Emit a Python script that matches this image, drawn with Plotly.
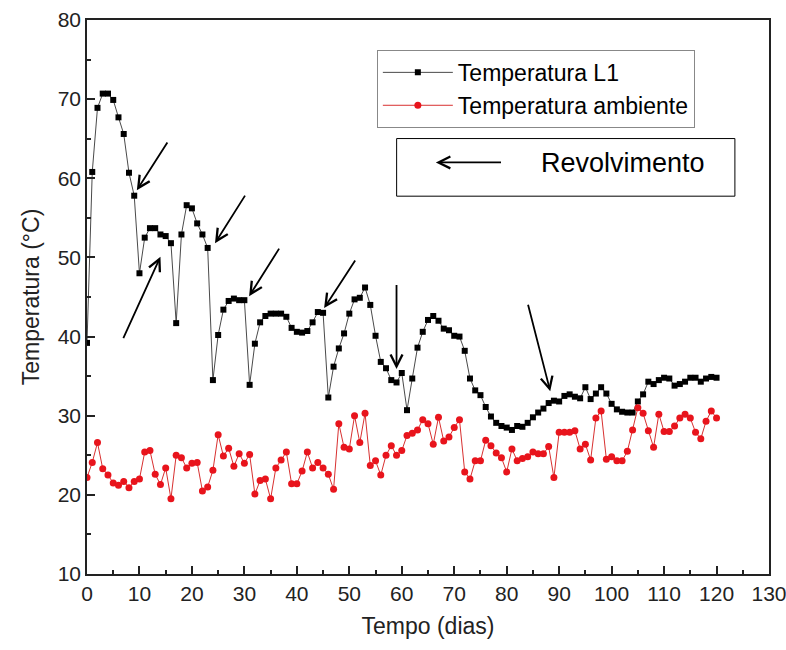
import plotly.graph_objects as go

days = list(range(0, 121))

temp_l1 = [39.2, 60.8, 68.9, 70.7, 70.7, 69.9, 67.7, 65.6, 60.7, 57.8,
           48.0, 52.5, 53.7, 53.7, 52.9, 52.7, 51.8, 41.7, 52.9, 56.6,
           56.2, 54.3, 52.9, 51.2, 34.5, 40.2, 43.4, 44.5, 44.8, 44.6,
           44.6, 33.9, 39.1, 41.8, 42.6, 42.9, 42.9, 42.9, 42.5, 41.1,
           40.6, 40.5, 40.7, 41.8, 43.1, 43.0, 32.3, 36.2, 38.5, 40.4,
           42.9, 44.7, 44.9, 46.2, 44.0, 40.1, 36.8, 36.0, 34.5, 34.2,
           35.4, 30.7, 34.7, 38.6, 40.6, 42.1, 42.6, 42.0, 41.0, 40.8,
           40.1, 40.0, 38.2, 34.7, 33.2, 32.6, 31.1, 29.9, 29.1, 28.7,
           28.5, 28.2, 28.7, 28.6, 29.1, 29.8, 30.4, 30.9, 31.6, 31.9,
           31.8, 32.5, 32.7, 32.4, 32.2, 33.6, 32.1, 32.8, 33.6, 32.8,
           31.5, 30.8, 30.5, 30.4, 30.4, 31.8, 32.7, 34.3, 34.0, 34.5,
           34.8, 34.7, 33.8, 34.0, 34.3, 34.8, 34.8, 34.3, 34.7, 34.9,
           34.8]

temp_amb = [22.2, 24.1, 26.6, 23.3, 22.5, 21.5, 21.2, 21.7, 20.9, 21.7,
            22.0, 25.4, 25.6, 22.6, 21.3, 23.4, 19.5, 25.0, 24.7, 23.4,
            24.0, 24.1, 20.5, 21.0, 23.1, 27.6, 24.9, 25.9, 23.6, 25.2,
            24.0, 25.1, 20.1, 21.8, 22.0, 19.5, 23.4, 24.4, 25.4, 21.4,
            21.4, 23.0, 25.4, 23.4, 24.1, 23.4, 22.6, 20.7, 29.0, 26.0,
            25.8, 30.0, 26.6, 30.3, 23.7, 24.3, 22.5, 25.0, 26.2, 25.0,
            25.6, 27.5, 27.8, 28.2, 29.5, 29.0, 26.4, 29.8, 26.8, 27.3,
            28.5, 29.5, 22.9, 22.0, 24.3, 24.3, 26.9, 26.2, 25.3, 24.7,
            22.9, 25.8, 24.3, 24.6, 24.8, 25.4, 25.2, 25.2, 26.1, 22.2,
            27.9, 27.9, 27.9, 28.1, 25.8, 26.4, 24.4, 29.7, 30.6, 24.5,
            24.8, 24.3, 24.3, 25.5, 28.2, 31.0, 30.3, 28.1, 26.0, 30.2,
            28.0, 28.0, 28.7, 29.7, 30.2, 29.7, 27.9, 27.1, 29.3, 30.6,
            29.7]

# arrows: (head_x, head_y, tail_x, tail_y) in data units
arrows = [
    (9.5, 58.5, 15.5, 64.7),
    (14.0, 50.1, 6.8, 39.6),
    (24.4, 51.8, 30.3, 58.0),
    (30.9, 45.1, 36.8, 51.3),
    (45.2, 43.6, 51.3, 49.8),
    (59.0, 35.9, 59.0, 46.7),
    (88.3, 33.1, 84.0, 44.2),
    (66.5, 62.0, 79.2, 62.0),
]

FONT = "Arial, Liberation Sans, sans-serif"

fig = go.Figure()
fig.add_trace(go.Scatter(
    x=days, y=temp_l1, mode="lines+markers", name="Temperatura L1",
    line=dict(color="#4a4a4a", width=1),
    marker=dict(symbol="square", size=6, color="black"),
))
fig.add_trace(go.Scatter(
    x=days, y=temp_amb, mode="lines+markers", name="Temperatura ambiente",
    line=dict(color="#d83030", width=1),
    marker=dict(symbol="circle", size=7, color="#e8141c"),
))

for hx, hy, tx, ty in arrows:
    fig.add_annotation(
        x=hx, y=hy, ax=tx, ay=ty, xref="x", yref="y", axref="x", ayref="y",
        text="", showarrow=True, arrowhead=5, arrowsize=1.3, arrowwidth=1.8,
        arrowcolor="black",
    )

fig.add_shape(type="rect", xref="paper", yref="paper",
              x0=0.454, x1=0.950, y0=0.682, y1=0.786,
              line=dict(color="black", width=1))
fig.add_annotation(x=0.786, y=0.742, xref="paper", yref="paper",
                   xanchor="center", yanchor="middle",
                   text="Revolvimento", showarrow=False,
                   font=dict(size=27, color="black", family=FONT))

fig.update_layout(
    width=786, height=650,
    margin=dict(l=87, r=17, t=20, b=76),
    paper_bgcolor="white", plot_bgcolor="white",
    font=dict(family=FONT, size=21, color="#222222"),
    showlegend=True,
    legend=dict(x=0.425, y=0.946, xanchor="left", yanchor="top",
                bordercolor="#888888", borderwidth=1, bgcolor="white",
                font=dict(size=23, color="black"), tracegroupgap=0,
                itemwidth=70),
)
fig.update_xaxes(
    range=[0, 130], tickmode="linear", tick0=0, dtick=10,
    ticks="inside", ticklen=8, tickwidth=1.5, tickcolor="#222",
    minor=dict(ticks="inside", ticklen=4, dtick=5, tickcolor="#222"),
    showline=True, linecolor="#222", linewidth=1.5, mirror=True,
    showgrid=False, zeroline=False, automargin=False,
    ticklabeloverflow="allow",
    title=dict(text="Tempo (dias)", font=dict(size=23), standoff=14),
)
fig.update_yaxes(
    range=[10, 80], tickmode="linear", tick0=10, dtick=10,
    ticks="inside", ticklen=8, tickwidth=1.5, tickcolor="#222",
    minor=dict(ticks="inside", ticklen=4, dtick=5, tickcolor="#222"),
    showline=True, linecolor="#222", linewidth=1.5, mirror=True,
    showgrid=False, zeroline=False, automargin=False,
    ticklabeloverflow="allow",
    title=dict(text="Temperatura (°C)", font=dict(size=23), standoff=12),
)

fig.write_html("out.html",
               config={"displayModeBar": False},
               post_script="document.body.style.margin='0px';"
                           "document.body.style.overflow='hidden';")
